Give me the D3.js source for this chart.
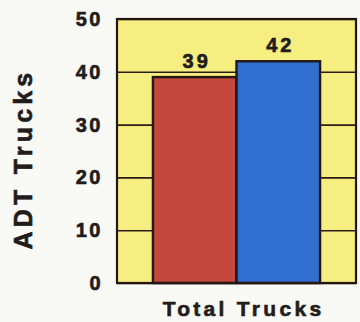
<!DOCTYPE html>
<html>
<head>
<meta charset="utf-8">
<script src="https://cdn.jsdelivr.net/npm/d3@7.9.0/dist/d3.min.js"></script>
<style>
  html, body { margin: 0; padding: 0; background: #f9f9f6; }
  svg { display: block; }
  text { font-family: "Liberation Sans", Arial, sans-serif; font-weight: bold; fill: #221c1a; stroke: #221c1a; stroke-width: 0.6px; }
</style>
</head>
<body>
<div id="chart"></div>
<script>
// Data
const categories = ['Total Trucks A', 'Total Trucks B'];
const values = [39, 42];
const barColors = ['#c3473b', '#2f6fcf'];
const yTicks = [0, 10, 20, 30, 40, 50];
const xLabel = 'Total Trucks';
const yLabel = 'ADT Trucks';

const width = 360;
const height = 322;
const margin = { top: 19, right: 4, bottom: 39, left: 117 };

const svg = d3.select('#chart')
  .append('svg')
  .attr('width', width)
  .attr('height', height);

const x = d3.scaleBand()
  .domain(categories)
  .range([margin.left, width - margin.right])
  .paddingInner(0)
  .paddingOuter(0.43);

const y = d3.scaleLinear()
  .domain([0, 50])
  .range([height - margin.bottom, margin.top]);

// plot background
svg.append('rect')
  .attr('x', margin.left)
  .attr('y', margin.top)
  .attr('width', width - margin.left - margin.right)
  .attr('height', height - margin.top - margin.bottom)
  .attr('fill', '#f6ee80');

// gridlines
svg.append('g')
  .attr('transform', `translate(${margin.left},0)`)
  .call(d3.axisLeft(y).tickValues(yTicks).tickFormat('').tickSize(-(width - margin.left - margin.right)))
  .call(g => g.select('.domain').remove())
  .call(g => g.selectAll('line').attr('stroke', '#2a1c14').attr('stroke-width', 1.6));

// bars
svg.append('g')
  .selectAll('rect')
  .data(values)
  .join('rect')
  .attr('x', (d, i) => x(categories[i]))
  .attr('y', d => y(d))
  .attr('width', x.bandwidth())
  .attr('height', d => y(0) - y(d))
  .attr('fill', (d, i) => barColors[i])
  .attr('stroke', '#241610')
  .attr('stroke-width', 2.4);

// value labels
svg.append('g')
  .selectAll('text')
  .data(values)
  .join('text')
  .attr('x', (d, i) => x(categories[i]) + x.bandwidth() / 2 + 2)
  .attr('y', d => y(d) - 9)
  .attr('text-anchor', 'middle')
  .style('font-size', '20px')
  .style('letter-spacing', '3px')
  .text(d => d);

// frame
svg.append('rect')
  .attr('x', margin.left)
  .attr('y', margin.top)
  .attr('width', width - margin.left - margin.right)
  .attr('height', height - margin.top - margin.bottom)
  .attr('fill', 'none')
  .attr('stroke', '#241610')
  .attr('stroke-width', 2.2);

// y tick labels
svg.append('g')
  .selectAll('text')
  .data(yTicks)
  .join('text')
  .attr('x', margin.left - 14)
  .attr('y', d => y(d) + 7)
  .attr('text-anchor', 'end')
  .style('font-size', '20px')
  .style('letter-spacing', '2.5px')
  .text(d => d);

// x label
svg.append('text')
  .attr('x', (margin.left + width - margin.right) / 2 + 7)
  .attr('y', 316)
  .attr('text-anchor', 'middle')
  .style('font-size', '21px')
  .style('letter-spacing', '3.3px')
  .text(xLabel);

// y label
svg.append('text')
  .attr('transform', `translate(32,${159}) rotate(-90)`)
  .attr('text-anchor', 'middle')
  .style('font-size', '25px')
  .style('letter-spacing', '4.2px')
  .text(yLabel);
</script>
</body>
</html>
